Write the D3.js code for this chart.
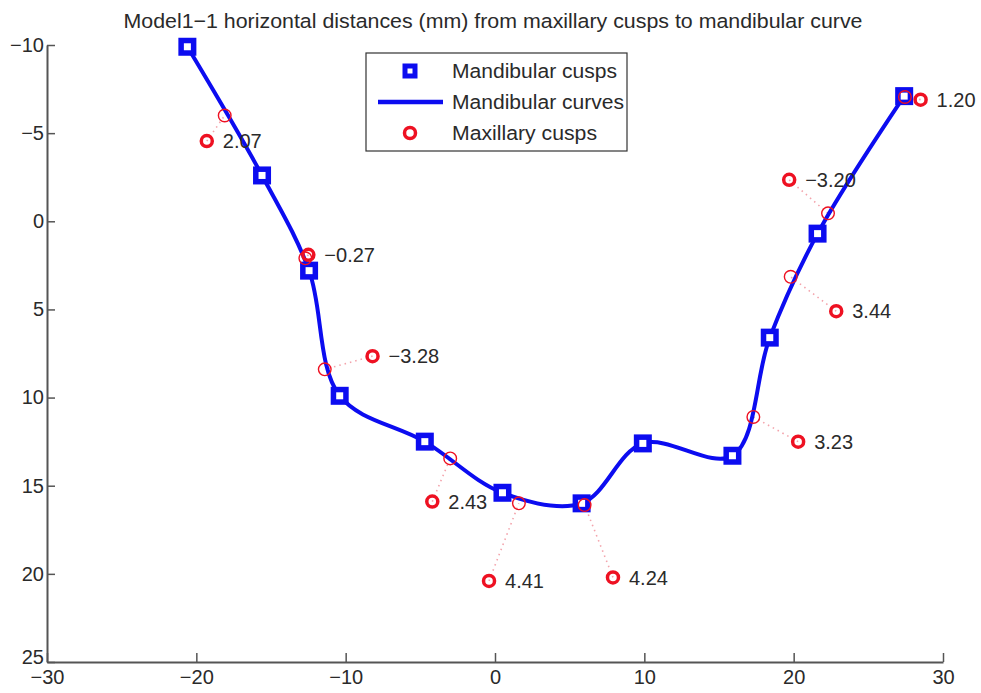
<!DOCTYPE html>
<html>
<head>
<meta charset="utf-8">
<script src="https://cdn.jsdelivr.net/npm/d3@7"></script>
<style>
  body { margin: 0; background: #fff; }
  svg { display: block; font-family: "Liberation Sans", Arial, sans-serif; }
</style>
</head>
<body>
<svg id="chart" width="981" height="693"></svg>
<script>
// ---- Data ----
const titleText = "Model1\u22121 horizontal distances (mm) from maxillary cusps to mandibular curve";
const xTicks = [-30, -20, -10, 0, 10, 20, 30];
const yTicks = [-10, -5, 0, 5, 10, 15, 20, 25];

// Mandibular cusps (blue squares), also the knots of the mandibular curve
const mandX = [-20.6, -15.6, -12.45, -10.4, -4.7, 0.5, 5.8, 9.9, 15.9, 18.4, 21.6, 27.4];
const mandY = [-9.9, -2.6, 2.8, 9.9, 12.5, 15.4, 16.0, 12.6, 13.3, 6.6, 0.7, -7.1];

// Maxillary cusps (big red circles) with their distance labels
const maxX = [-19.3, -12.5, -8.2, -4.2, -0.4, 7.9, 20.3, 22.85, 19.7, 28.5];
const maxY = [-4.55, 1.9, 7.65, 15.9, 20.4, 20.2, 12.5, 5.1, -2.35, -6.9];
const distLabels = ["2.07", "\u22120.27", "\u22123.28", "2.43", "4.41", "4.24", "3.23", "3.44", "\u22123.20", "1.20"];

// Projections of the maxillary cusps on the mandibular curve (thin red circles)
const projX = [-18.1, -12.7, -11.4, -3.0, 1.6, 6.0, 17.3, 19.8, 22.3, 27.45];
const projY = [-6.0, 2.1, 8.4, 13.45, 16.0, 16.1, 11.1, 3.15, -0.45, -7.05];

const legendLabels = ["Mandibular cusps", "Mandibular curves", "Maxillary cusps"];

// ---- Drawing ----
const svg = d3.select("#chart");
const blue = "#0c0cf0";
const red = "#ee1122";
const axisColor = "#555";
const textColor = "#2a2a2a";

const x = d3.scaleLinear().domain([-30, 30]).range([47, 943]);
const y = d3.scaleLinear().domain([-10, 25]).range([45, 662]);

// Title
svg.append("text")
  .attr("x", 493).attr("y", 28)
  .attr("text-anchor", "middle")
  .attr("font-size", 20.5)
  .attr("textLength", 739).attr("lengthAdjust", "spacingAndGlyphs")
  .attr("fill", textColor)
  .text(titleText);

// Axes
const xAxis = d3.axisBottom(x).tickValues(xTicks).tickSizeInner(-9).tickSizeOuter(0).tickPadding(8);
const yAxis = d3.axisLeft(y).tickValues(yTicks).tickSizeInner(-8).tickSizeOuter(0).tickPadding(3);

const gx = svg.append("g").attr("transform", `translate(0,${y(25)})`).call(xAxis);
const gy = svg.append("g").attr("transform", `translate(${x(-30)},0)`).call(yAxis);
[gx, gy].forEach(g => {
  g.select(".domain").attr("stroke", axisColor).attr("stroke-width", 2);
  g.selectAll(".tick line").attr("stroke", axisColor).attr("stroke-width", 1.5);
  g.selectAll(".tick text").attr("fill", textColor).attr("font-size", 20)
    .attr("font-family", "Liberation Sans, Arial, sans-serif");
});
// the lowest y label sits slightly raised, clear of the x labels
gy.selectAll(".tick").filter(d => d === 25).select("text").attr("y", -5);

// Dotted connector lines
const idx = d3.range(maxX.length);
svg.append("g").selectAll("line").data(idx).join("line")
  .attr("x1", i => x(maxX[i])).attr("y1", i => y(maxY[i]))
  .attr("x2", i => x(projX[i])).attr("y2", i => y(projY[i]))
  .attr("stroke", "#f3a3ab").attr("stroke-width", 1.6)
  .attr("stroke-dasharray", "1.5,4");

// Mandibular curve
const line = d3.line()
  .x(i => x(mandX[i])).y(i => y(mandY[i]))
  .curve(d3.curveCatmullRom.alpha(0.5));
svg.append("path")
  .attr("d", line(d3.range(mandX.length)))
  .attr("fill", "none").attr("stroke", blue).attr("stroke-width", 4)
  .attr("stroke-linejoin", "round");

// Mandibular cusps (squares)
const sq = 12.5;
svg.append("g").selectAll("rect").data(d3.range(mandX.length)).join("rect")
  .attr("x", i => x(mandX[i]) - sq / 2).attr("y", i => y(mandY[i]) - sq / 2)
  .attr("width", sq).attr("height", sq)
  .attr("fill", "#fff").attr("stroke", blue).attr("stroke-width", 5.5);

// Projection circles (thin)
svg.append("g").selectAll("circle").data(idx).join("circle")
  .attr("cx", i => x(projX[i])).attr("cy", i => y(projY[i]))
  .attr("r", 6.3).attr("fill", "none").attr("stroke", red).attr("stroke-width", 1.4);

// Maxillary cusps (thick circles)
svg.append("g").selectAll("circle").data(idx).join("circle")
  .attr("cx", i => x(maxX[i])).attr("cy", i => y(maxY[i]))
  .attr("r", 5.5).attr("fill", "none").attr("stroke", red).attr("stroke-width", 3.5);

// Distance labels
svg.append("g").selectAll("text").data(idx).join("text")
  .attr("x", i => x(maxX[i]) + 16).attr("y", i => y(maxY[i]))
  .attr("dy", "0.36em")
  .attr("font-size", 20).attr("fill", textColor)
  .text(i => distLabels[i]);

// Legend
const lg = svg.append("g");
lg.append("rect").attr("x", 366).attr("y", 53).attr("width", 261).attr("height", 98)
  .attr("fill", "#fff").attr("stroke", "#333").attr("stroke-width", 1.2);
const rowY = [71, 102, 133];
const legendWidths = [165, 172, 145];
lg.append("rect").attr("x", 410 - 5).attr("y", rowY[0] - 5).attr("width", 10).attr("height", 10)
  .attr("fill", "#fff").attr("stroke", blue).attr("stroke-width", 5);
lg.append("line").attr("x1", 378).attr("x2", 443).attr("y1", rowY[1]).attr("y2", rowY[1])
  .attr("stroke", blue).attr("stroke-width", 4.5);
lg.append("circle").attr("cx", 410).attr("cy", rowY[2]).attr("r", 5.5)
  .attr("fill", "none").attr("stroke", red).attr("stroke-width", 3.5);
lg.selectAll("text.lab").data(legendLabels).join("text")
  .attr("class", "lab")
  .attr("x", 452).attr("y", (d, i) => rowY[i]).attr("dy", "0.36em")
  .attr("font-size", 20).attr("fill", textColor)
  .attr("textLength", (d, i) => legendWidths[i]).attr("lengthAdjust", "spacingAndGlyphs")
  .text(d => d);
</script>
</body>
</html>
